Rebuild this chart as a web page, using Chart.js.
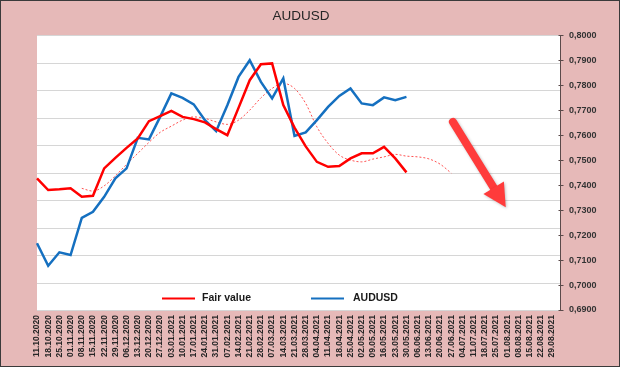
<!DOCTYPE html>
<html>
<head>
<meta charset="utf-8">
<script src="https://cdn.jsdelivr.net/npm/chart.js@4.4.1/dist/chart.umd.min.js"></script>
<style>
html,body{margin:0;padding:0;background:#E6B9B8;}
#wrap{width:620px;height:367px;position:relative;}
</style>
</head>
<body>
<div id="wrap"><canvas id="c"></canvas></div>
<script>
const categories = [
  '11.10.2020','18.10.2020','25.10.2020','01.11.2020','08.11.2020','15.11.2020','22.11.2020','29.11.2020',
  '06.12.2020','13.12.2020','20.12.2020','27.12.2020','03.01.2021','10.01.2021','17.01.2021','24.01.2021',
  '31.01.2021','07.02.2021','14.02.2021','21.02.2021','28.02.2021','07.03.2021','14.03.2021','21.03.2021',
  '28.03.2021','04.04.2021','11.04.2021','18.04.2021','25.04.2021','02.05.2021','09.05.2021','16.05.2021',
  '23.05.2021','30.05.2021','06.06.2021','13.06.2021','20.06.2021','27.06.2021','04.07.2021','11.07.2021',
  '18.07.2021','25.07.2021','01.08.2021','08.08.2021','15.08.2021','22.08.2021','29.08.2021'
];

const fairValue = [
  0.7427,0.7380,0.7383,0.7387,0.7353,0.7357,0.7467,0.7509,0.7549,0.7587,0.7656,0.7676,
  0.7697,0.7673,0.7664,0.7651,0.7624,0.7600,0.7709,0.7820,0.7884,0.7887,0.7720,0.7630,
  0.7555,0.7493,0.7473,0.7476,0.7507,0.7527,0.7527,0.7553,0.7507,0.7451
];

const audusd = [
  0.7167,0.7077,0.7131,0.7120,0.7269,0.7293,0.7353,0.7427,0.7467,0.7589,0.7583,0.7673,
  0.7767,0.7749,0.7723,0.7660,0.7616,0.7720,0.7833,0.7900,0.7813,0.7747,0.7827,0.7597,
  0.7611,0.7660,0.7713,0.7757,0.7787,0.7727,0.7720,0.7751,0.7740,0.7753
];

const fairTrend = [
  null,null,null,null,0.7387,0.7376,0.7397,0.7437,0.7483,0.7527,0.7571,0.7611,
  0.7636,0.7660,0.7673,0.7667,0.7653,0.7643,0.7660,0.7700,0.7749,0.7787,0.7807,0.7787,
  0.7727,0.7633,0.7567,0.7520,0.7500,0.7493,0.7504,0.7513,0.7523,0.7516,0.7513,0.7505,
  0.7484,0.7448
];

const yMin = 0.69, yMax = 0.80, yStep = 0.01;
const gridCount = 10;
// arrow annotation in data units: [category index, value]
const arrowStart = [37.15, 0.7653];
const arrowEnd = [41.87, 0.7311];

Chart.defaults.font.family = "'Liberation Sans', Arial, sans-serif";

const decor = {
  id: 'decor',
  afterLayout(chart) {
    // nudge the title block so it is centred like the original
    if (chart.titleBlock) { chart.titleBlock.left += 13; }
  },
  beforeDraw(chart) {
    const {ctx, chartArea: ca, width, height} = chart;
    const extra = 8;
    ctx.save();
    ctx.fillStyle = '#E6B9B8';
    ctx.fillRect(0, 0, width, height);
    ctx.strokeStyle = '#3a3a3a';
    ctx.lineWidth = 1;
    ctx.strokeRect(0.5, 0.5, width - 1, height - 1);
    ctx.fillStyle = '#ffffff';
    ctx.fillRect(ca.left, ca.top, ca.right + extra - ca.left, ca.bottom - ca.top);
    const g = chart.scales.g;
    ctx.strokeStyle = '#D6D6D6';
    ctx.lineWidth = 1.2;
    for (let k = 0; k <= gridCount; k++) {
      const y = Math.round(g.getPixelForValue(k)) + 0.5;
      ctx.beginPath();
      ctx.moveTo(ca.left, y);
      ctx.lineTo(ca.right + extra, y);
      ctx.stroke();
    }
    const ax = ca.right + extra + 0.5;
    ctx.strokeStyle = '#5a4a4a';
    ctx.lineWidth = 1;
    ctx.beginPath();
    ctx.moveTo(ax, ca.top);
    ctx.lineTo(ax, ca.bottom);
    ctx.stroke();
    const ys = chart.scales.y;
    ys.ticks.forEach(t => {
      const y = Math.round(ys.getPixelForValue(t.value)) + 0.5;
      ctx.beginPath();
      ctx.moveTo(ax - 2, y);
      ctx.lineTo(ax + 3, y);
      ctx.stroke();
    });
    ctx.restore();
  },
  afterDraw(chart) {
    const {ctx} = chart;
    const xs = chart.scales.x, ys = chart.scales.y;
    const x0 = xs.getPixelForValue(arrowStart[0]), y0 = ys.getPixelForValue(arrowStart[1]);
    const x1 = xs.getPixelForValue(arrowEnd[0]), y1 = ys.getPixelForValue(arrowEnd[1]);
    const dx = x1 - x0, dy = y1 - y0, len = Math.hypot(dx, dy);
    const ux = dx / len, uy = dy / len, nx = -uy, ny = ux;
    const headLen = 23, headHalf = 12;
    const bx = x1 - ux * headLen, by = y1 - uy * headLen;
    ctx.save();
    ctx.shadowColor = 'rgba(0,0,0,0.25)';
    ctx.shadowBlur = 3;
    ctx.shadowOffsetX = 1;
    ctx.shadowOffsetY = 1;
    ctx.strokeStyle = '#FF3B3B';
    ctx.fillStyle = '#FF3B3B';
    ctx.lineWidth = 8;
    ctx.lineCap = 'round';
    ctx.beginPath();
    ctx.moveTo(x0, y0);
    ctx.lineTo(bx + ux * 2, by + uy * 2);
    ctx.stroke();
    ctx.beginPath();
    ctx.moveTo(x1, y1);
    ctx.lineTo(bx + nx * headHalf, by + ny * headHalf);
    ctx.lineTo(bx - nx * headHalf, by - ny * headHalf);
    ctx.closePath();
    ctx.fill();
    ctx.restore();
    const items = [
      {ds: chart.data.datasets[0], x: 162, tx: 202},
      {ds: chart.data.datasets[1], x: 311, tx: 353}
    ];
    const ly = 298.5;
    ctx.save();
    ctx.font = "bold 10.5px 'Liberation Sans', Arial, sans-serif";
    ctx.textBaseline = 'middle';
    ctx.fillStyle = '#1a1a1a';
    items.forEach(it => {
      ctx.strokeStyle = it.ds.borderColor;
      ctx.lineWidth = 2.2;
      ctx.beginPath();
      ctx.moveTo(it.x, ly);
      ctx.lineTo(it.x + 33, ly);
      ctx.stroke();
      ctx.fillText(it.ds.label, it.tx, ly);
    });
    ctx.restore();
  }
};

new Chart(document.getElementById('c'), {
  type: 'line',
  data: {
    labels: categories,
    datasets: [
      {label: 'Fair value', data: fairValue, borderColor: '#FF0000', borderWidth: 2.5, pointRadius: 0, tension: 0, order: 1},
      {label: 'AUDUSD', data: audusd, borderColor: '#1570C0', borderWidth: 2.5, pointRadius: 0, tension: 0, order: 2},
      {label: 'Fair value trend', data: fairTrend, borderColor: 'rgba(255,50,50,0.85)', borderWidth: 1, borderDash: [2, 2],
       pointRadius: 0, tension: 0.4, cubicInterpolationMode: 'monotone', order: 3}
    ]
  },
  options: {
    responsive: true,
    maintainAspectRatio: false,
    animation: false,
    layout: {padding: {left: 37, right: 0, top: 0, bottom: 0}},
    plugins: {
      legend: {display: false},
      tooltip: {enabled: false},
      title: {
        display: true, text: 'AUDUSD', color: '#262626', fullSize: false,
        font: {size: 13.5, weight: 'normal', family: "'Liberation Sans', Arial, sans-serif"},
        padding: {top: 8, bottom: 11}
      }
    },
    scales: {
      x: {
        type: 'category',
        offset: false,
        grid: {display: false, drawTicks: false},
        border: {display: false},
        ticks: {autoSkip: false, maxRotation: 90, minRotation: 90, padding: 5, color: '#262626',
                font: {size: 8.5, weight: 'bold'}},
        afterFit(s) { s.height = 57; }
      },
      y: {
        position: 'right',
        min: yMin, max: yMax,
        grid: {display: false, drawTicks: false},
        border: {display: false},
        ticks: {stepSize: yStep, padding: 17, color: '#333333', font: {size: 9, weight: 'bold'},
                callback: v => Number(v).toFixed(4).replace('.', ',')},
        afterFit(s) { s.width = 68; }
      },
      g: {
        type: 'linear', axis: 'y', position: 'left', display: false,
        min: 0, max: gridCount
      }
    }
  },
  plugins: [decor]
});
</script>
</body>
</html>
